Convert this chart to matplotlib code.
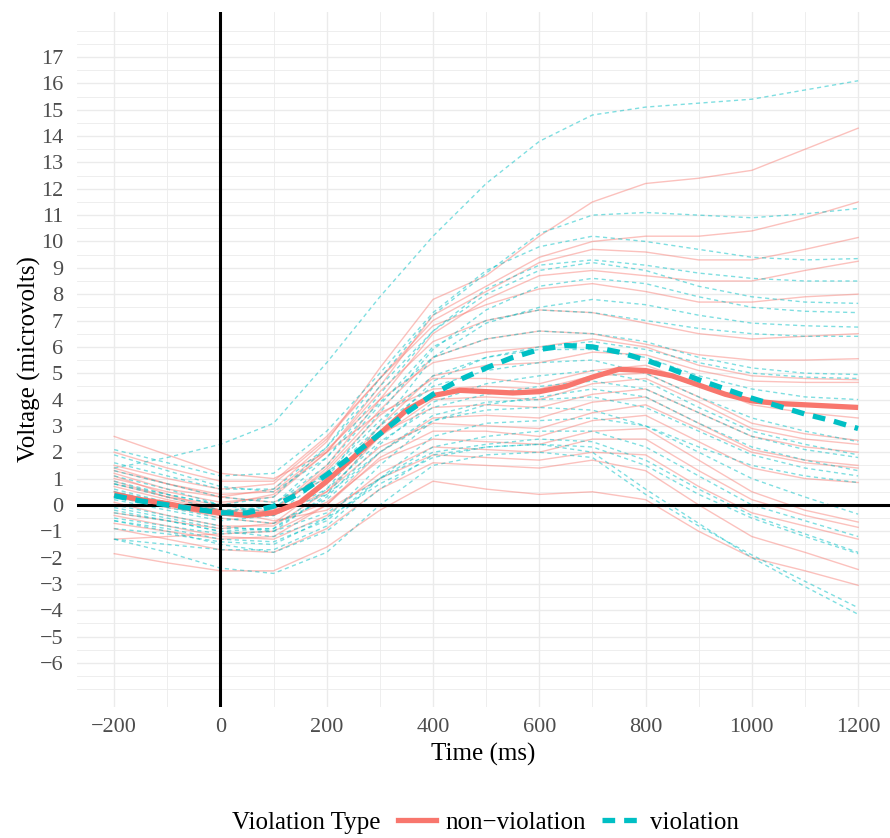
import numpy as np
import matplotlib
matplotlib.use("Agg")
import matplotlib.pyplot as plt
from matplotlib.lines import Line2D

plt.rcParams['font.family'] = ['Liberation Serif', 'DejaVu Serif']

# time axis (ms) for the single-subject waveforms
times = [-200, -100, 0, 100, 200, 300, 400, 500, 600, 700, 800, 900, 1000, 1100, 1200]
# finer time axis for the grand averages
mean_times = [-200, -150, -100, -50, 0, 50, 100, 150, 200, 250, 300, 350, 400, 450, 500,
              550, 600, 650, 700, 750, 800, 850, 900, 950, 1000, 1050, 1100, 1150, 1200]

# per-subject waveforms, non-violation condition
nonviol_subjects = [
    [1.2, 0.6, 0.3, 0.6, 2.4, 5.2, 7.8, 8.7, 10.2, 11.5, 12.2, 12.4, 12.7, 13.5, 14.3],
    [0.8, 0.3, 0.0, 0.4, 2.0, 4.5, 7.2, 8.3, 9.4, 10.0, 10.2, 10.2, 10.4, 10.9, 11.5],
    [1.5, 1.0, 0.6, 0.8, 2.5, 4.8, 7.0, 8.1, 9.2, 9.7, 9.6, 9.3, 9.3, 9.7, 10.15],
    [0.5, 0.0, -0.4, -0.2, 1.5, 4.0, 6.5, 7.8, 8.7, 8.9, 8.7, 8.5, 8.5, 8.9, 9.25],
    [2.0, 1.4, 0.9, 0.9, 2.6, 4.8, 6.8, 7.6, 8.2, 8.4, 8.1, 7.7, 7.7, 7.9, 8.0],
    [1.0, 0.5, 0.1, 0.3, 2.0, 4.3, 6.2, 7.0, 7.4, 7.3, 6.9, 6.5, 6.3, 6.4, 6.5],
    [0.3, -0.1, -0.4, -0.3, 1.4, 3.6, 5.6, 6.3, 6.6, 6.5, 6.1, 5.7, 5.5, 5.5, 5.55],
    [1.3, 0.8, 0.4, 0.5, 2.1, 4.0, 5.4, 5.8, 6.0, 6.3, 6.0, 5.3, 4.9, 4.8, 4.75],
    [-0.3, -0.6, -0.9, -0.7, 0.8, 3.0, 4.9, 5.3, 5.4, 5.8, 5.7, 5.1, 4.7, 4.65, 4.65],
    [0.7, 0.2, -0.2, -0.2, 1.3, 3.4, 4.8, 4.8, 4.6, 5.1, 5.3, 4.6, 3.8, 3.5, 3.3],
    [2.6, 1.9, 1.2, 1.0, 2.0, 3.5, 4.4, 4.5, 4.4, 4.9, 5.0, 4.1, 3.1, 2.7, 2.45],
    [0.1, -0.4, -0.8, -0.8, 0.5, 2.6, 4.0, 4.1, 4.0, 4.6, 4.8, 3.9, 2.9, 2.5, 2.3],
    [1.4, 0.8, 0.3, 0.1, 1.0, 2.7, 3.7, 3.8, 3.7, 4.2, 4.4, 3.5, 2.6, 2.2, 2.0],
    [-0.7, -1.0, -1.3, -1.2, 0.0, 2.0, 3.3, 3.4, 3.3, 3.9, 4.1, 3.1, 2.1, 1.7, 1.5],
    [0.9, 0.3, -0.2, -0.4, 0.5, 2.2, 3.1, 3.0, 2.9, 3.5, 3.8, 2.9, 2.0, 1.6, 1.4],
    [-1.3, -1.2, -1.1, -1.0, 0.0, 1.8, 2.8, 2.8, 2.6, 3.2, 3.4, 2.4, 1.4, 1.0, 0.85],
    [0.5, 0.0, -0.5, -0.7, 0.1, 1.7, 2.5, 2.4, 2.3, 2.8, 2.9, 1.7, 0.5, -0.2, -0.65],
    [-0.4, -0.8, -1.2, -1.3, -0.4, 1.2, 2.2, 2.1, 2.0, 2.5, 2.5, 1.3, 0.2, -0.4, -0.85],
    [1.1, 0.4, -0.2, -0.6, -0.2, 1.0, 1.9, 1.8, 1.7, 2.0, 1.9, 0.7, -0.3, -0.8, -1.3],
    [-1.85, -2.2, -2.5, -2.5, -1.6, -0.2, 0.9, 0.6, 0.4, 0.5, 0.2, -1.0, -2.0, -2.5, -3.05],
    [-0.9, -1.3, -1.7, -1.8, -0.9, 0.6, 1.6, 1.5, 1.4, 1.7, 1.3, 0.0, -1.2, -1.8, -2.45],
]

# per-subject waveforms, violation condition
viol_subjects = [
    [1.4, 1.8, 2.3, 3.1, 5.4, 7.9, 10.2, 12.2, 13.8, 14.8, 15.1, 15.25, 15.4, 15.75, 16.1],
    [0.8, 0.4, 0.0, 0.3, 2.2, 4.8, 7.2, 8.8, 10.3, 11.0, 11.1, 11.0, 10.9, 11.05, 11.25],
    [2.1, 1.6, 1.1, 1.2, 2.8, 5.0, 7.3, 8.9, 9.8, 10.2, 10.0, 9.7, 9.4, 9.3, 9.35],
    [0.6, 0.1, -0.3, 0.0, 1.8, 4.2, 6.6, 8.2, 9.1, 9.3, 9.1, 8.8, 8.6, 8.5, 8.5],
    [1.6, 1.1, 0.6, 0.6, 2.2, 4.5, 6.6, 8.0, 8.9, 9.2, 8.9, 8.3, 7.9, 7.7, 7.65],
    [0.2, -0.2, -0.6, -0.4, 1.1, 3.5, 5.9, 7.4, 8.3, 8.6, 8.4, 7.9, 7.5, 7.35, 7.3],
    [-0.3, -0.6, -1.0, -0.9, 0.6, 3.0, 5.6, 6.9, 7.5, 7.8, 7.6, 7.2, 6.9, 6.8, 6.75],
    [0.9, 0.4, 0.0, 0.0, 1.5, 3.8, 6.0, 7.0, 7.4, 7.3, 7.0, 6.7, 6.5, 6.4, 6.4],
    [1.9, 1.3, 0.7, 0.5, 1.8, 3.9, 5.6, 6.3, 6.6, 6.5, 6.2, 5.6, 5.2, 5.0, 4.95],
    [-0.5, -0.8, -1.1, -1.0, 0.4, 2.7, 4.7, 5.6, 6.0, 6.2, 5.9, 5.4, 5.0, 4.85, 4.8],
    [0.5, 0.1, -0.2, -0.1, 1.2, 3.2, 4.9, 5.6, 5.9, 5.9, 5.6, 4.9, 4.4, 4.1, 4.0],
    [1.3, 0.8, 0.3, 0.1, 1.1, 3.0, 4.5, 5.1, 5.4, 5.5, 5.0, 4.1, 3.3, 2.8, 2.4],
    [-0.1, -0.5, -0.9, -0.9, 0.3, 2.3, 3.9, 4.6, 4.9, 5.1, 4.7, 3.7, 2.8, 2.3, 1.9],
    [0.8, 0.3, -0.2, -0.4, 0.6, 2.4, 3.7, 4.2, 4.5, 4.7, 4.4, 3.5, 2.6, 2.1, 1.8],
    [-0.9, -1.1, -1.4, -1.5, -0.5, 1.5, 3.2, 3.8, 4.1, 4.4, 4.1, 3.1, 2.2, 1.7, 1.3],
    [0.3, -0.1, -0.5, -0.7, 0.2, 2.0, 3.4, 3.9, 4.0, 4.1, 3.7, 2.8, 1.9, 1.4, 1.1],
    [-1.3, -1.5, -1.7, -1.7, -0.8, 1.0, 2.6, 3.1, 3.2, 3.3, 3.0, 2.2, 1.5, 1.1, 0.85],
    [1.1, 0.6, 0.0, -0.3, 0.4, 2.0, 3.2, 3.6, 3.7, 3.6, 3.0, 2.0, 1.0, 0.3, -0.35],
    [-0.6, -0.9, -1.3, -1.4, -0.6, 1.0, 2.2, 2.6, 2.8, 2.8, 2.2, 1.1, 0.0, -0.6, -1.2],
    [0.0, -0.4, -0.8, -1.0, -0.3, 1.0, 2.0, 2.3, 2.5, 2.4, 1.7, 0.6, -0.4, -1.1, -1.8],
    [-0.2, -0.6, -1.0, -1.2, -0.5, 0.8, 1.8, 2.2, 2.3, 2.2, 1.5, 0.4, -0.5, -1.2, -1.85],
    [-1.3, -1.8, -2.4, -2.6, -1.8, 0.0, 1.5, 1.9, 2.0, 1.8, 0.4, -0.8, -1.9, -2.9, -3.9],
    [-0.6, -1.0, -1.5, -1.8, -1.0, 0.6, 1.9, 2.2, 2.3, 2.0, 0.6, -0.7, -2.0, -3.1, -4.15],
]

# grand averages
nonviol_mean = [0.4, 0.2, 0.05, -0.15, -0.3, -0.4, -0.3, 0.1, 0.9, 1.8, 2.7, 3.6, 4.15, 4.35, 4.3,
                4.25, 4.3, 4.5, 4.85, 5.15, 5.1, 4.9, 4.55, 4.2, 3.95, 3.85, 3.8, 3.75, 3.7]
viol_mean = [0.35, 0.15, 0.0, -0.15, -0.3, -0.3, -0.05, 0.45, 1.15, 1.9, 2.7, 3.5, 4.2, 4.75, 5.2,
             5.6, 5.9, 6.05, 6.0, 5.8, 5.5, 5.15, 4.75, 4.4, 4.05, 3.75, 3.45, 3.2, 2.9]

group_labels = ["non\u2212violation", "violation"]
red = "#F8766D"
teal = "#00BFC4"
mean_lw = 3.8
mean_dash = (0, (2.4, 1.7))

W, H = 890, 838
fig = plt.figure(figsize=(W / 100, H / 100), dpi=100)
ax = fig.add_axes([77 / W, 131 / H, 813 / W, 695 / H])

for ys in nonviol_subjects:
    ax.plot(times, ys, color=red, alpha=0.45, lw=1.0, zorder=2)
for ys in viol_subjects:
    ax.plot(times, ys, color=teal, alpha=0.5, lw=1.0, ls=(0, (3, 2.5)), zorder=2)

ax.axhline(0, color="black", lw=2.2, zorder=3)
ax.axvline(0, color="black", lw=2.2, zorder=3)

ax.plot(mean_times, nonviol_mean, color=red, lw=mean_lw, zorder=4, solid_capstyle="butt")
ax.plot(mean_times, viol_mean, color=teal, lw=mean_lw, ls=mean_dash, zorder=5)

ax.set_xlim(-270, 1260)
ax.set_ylim(-7.67, 18.71)

ax.set_xticks(np.arange(-200, 1201, 200))
ax.set_xticks(np.arange(-100, 1101, 200), minor=True)
ax.set_yticks(np.arange(-6, 18, 1))
y_minor = [v for v in np.arange(-7, 18.01, 0.5) if not (-6 <= v <= 17 and v == int(v))]
ax.set_yticks(y_minor, minor=True)

ax.grid(which="major", color="#EBEBEB", lw=1.0)
ax.grid(which="minor", color="#EBEBEB", lw=0.6)
ax.set_axisbelow(True)
ax.tick_params(which="both", length=0, labelsize=16, labelcolor="#4D4D4D")
ax.tick_params(axis="x", pad=8)
ax.tick_params(axis="y", pad=10)
for s in ax.spines.values():
    s.set_visible(False)

ax.set_xlabel("Time (ms)", fontsize=18, labelpad=4)
ax.set_ylabel("Voltage (microvolts)", fontsize=18, labelpad=-1)

# legend along the bottom, title on the left
fig.text(232 / W, 0.018, "Violation Type", fontsize=18, ha="left", va="center")
handles = [
    Line2D([], [], color=red, lw=mean_lw),
    Line2D([], [], color=teal, lw=mean_lw, ls=mean_dash),
]
fig.legend(handles, group_labels, loc="center left", bbox_to_anchor=(398 / W, 0.018),
           ncol=2, frameon=False, fontsize=18, handlelength=1.5, handletextpad=0.4,
           columnspacing=0.65, borderpad=0, borderaxespad=0)

fig.savefig("out.png", dpi=100)
